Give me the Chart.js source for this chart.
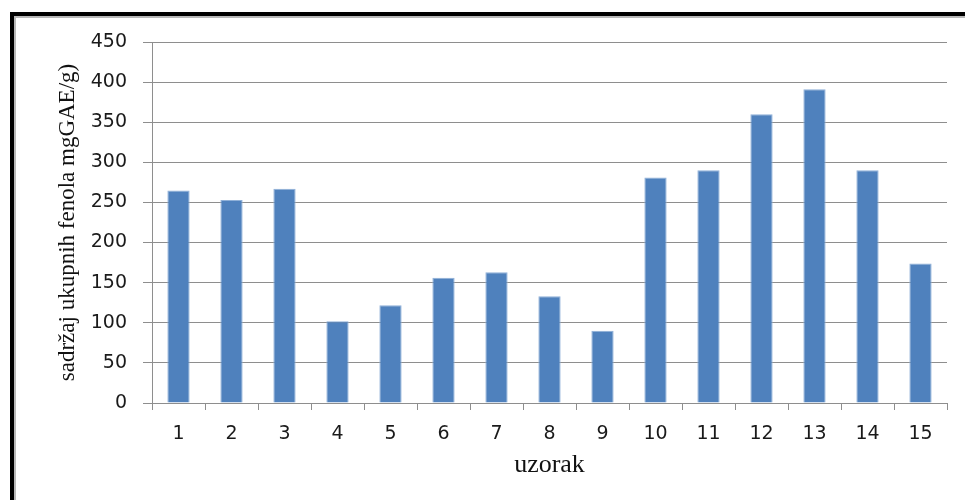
<!DOCTYPE html>
<html lang="en">

<head>
    <meta charset="UTF-8">
    <title>Sadržaj ukupnih fenola</title>
    <script src="https://cdn.jsdelivr.net/npm/chart.js"></script>
    <style>
        body {
            margin: 0;
            background: #fff;
        }

        #wrap {
            position: relative;
            width: 965px;
            height: 500px;
            overflow: hidden;
        }

        /* black frame with grey inner shadow, open to the right and bottom */
        #frame {
            position: absolute;
            left: 10px;
            top: 12px;
            width: 1000px;
            height: 600px;
            border-top: 4px solid #000;
            border-left: 4px solid #000;
            box-shadow: inset 2px 2px 0 #b8b8b8;
        }

        #chart {
            position: absolute;
            left: 0;
            top: 0;
        }
    </style>
</head>

<body>
    <div id="wrap">
        <div id="frame"></div>
        <canvas id="chart" width="965" height="500"></canvas>
    </div>

    <script>
        // data
        const categories = ['1', '2', '3', '4', '5', '6', '7', '8', '9', '10', '11', '12', '13', '14', '15'];
        const phenolValues = [265, 253, 267, 102, 122, 156, 163, 133, 90, 281, 290, 360, 391, 290, 174];
        const yTicks = [0, 50, 100, 150, 200, 250, 300, 350, 400, 450];

        const gridGrey = '#8e8e8e';

        const ctx = document.getElementById('chart').getContext('2d');
        new Chart(ctx, {
            type: 'bar',
            data: {
                labels: categories,
                datasets: [{
                    data: phenolValues,
                    backgroundColor: '#4f81bd',
                    borderColor: '#8fb0d8',
                    borderWidth: 1,
                    borderSkipped: 'bottom',
                    barPercentage: 0.42,
                    categoryPercentage: 1
                }]
            },
            options: {
                responsive: false,
                animation: false,
                layout: {
                    padding: { left: 0, right: 18, top: 42, bottom: 0 }
                },
                plugins: {
                    legend: { display: false },
                    tooltip: { enabled: false }
                },
                scales: {
                    x: {
                        grid: {
                            offset: true,
                            drawOnChartArea: false,
                            drawTicks: true,
                            tickLength: 7,
                            color: gridGrey
                        },
                        border: { color: gridGrey, width: 1 },
                        ticks: {
                            color: '#1a1a1a',
                            padding: 13,
                            font: { family: 'DejaVu Sans', size: 19 }
                        },
                        title: {
                            display: true,
                            text: 'uzorak',
                            color: '#111',
                            padding: { top: 0, bottom: 19 },
                            font: { family: 'Liberation Serif', size: 26 }
                        },
                        afterFit: (scale) => { scale.height = 97; }
                    },
                    y: {
                        min: 0,
                        max: 450,
                        afterBuildTicks: (scale) => {
                            scale.ticks = yTicks.map(v => ({ value: v }));
                        },
                        grid: {
                            color: gridGrey,
                            tickLength: 9
                        },
                        border: { color: gridGrey, width: 1 },
                        ticks: {
                            color: '#1a1a1a',
                            padding: 16,
                            font: { family: 'DejaVu Sans', size: 19 }
                        },
                        title: {
                            display: true,
                            text: 'sadržaj ukupnih fenola mgGAE/g)',
                            color: '#111',
                            padding: { top: 54, bottom: 0 },
                            font: { family: 'Liberation Serif', size: 23 }
                        },
                        afterFit: (scale) => { scale.width = 152; }
                    }
                }
            }
        });
    </script>
</body>

</html>
